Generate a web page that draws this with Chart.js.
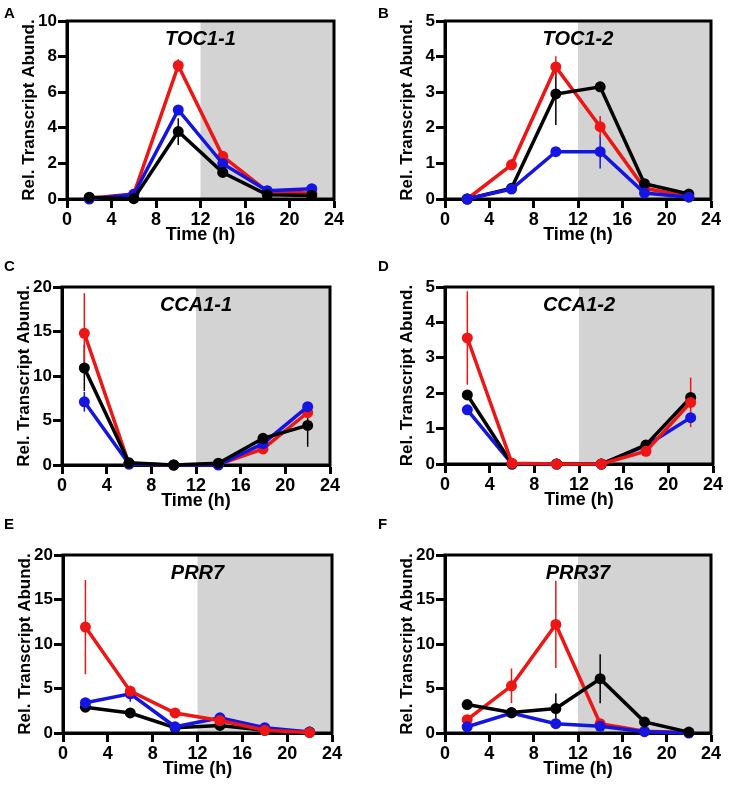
<!DOCTYPE html>
<html>
<head>
<meta charset="utf-8">
<script src="https://cdn.jsdelivr.net/npm/chart.js@4.4.1/dist/chart.umd.min.js"></script>
<style>
  body { margin: 0; background: #fff; width: 736px; height: 792px; position: relative; overflow: hidden;
         font-family: "Liberation Sans", Arial, sans-serif; }
  .panel { position: absolute; }
  .letter { position: absolute; font-weight: bold; font-size: 15px; }
</style>
</head>
<body>
<script>
// Sampling times (h)
const hours = [2, 6, 10, 14, 18, 22];

// A: TOC1-1
const toc11Red = [0.04, 0.28, 7.5, 2.4, 0.43, 0.33];
const toc11RedErr = [0, 0.05, 0.35, 0.1, 0.05, 0.05];
const toc11Blue = [0.0, 0.25, 5.0, 1.98, 0.47, 0.58];
const toc11BlueErr = [0, 0.05, 0.25, 0.1, 0.05, 0.05];
const toc11Black = [0.1, 0.02, 3.79, 1.49, 0.24, 0.2];
const toc11BlackErr = [0, 0, 0.75, 0.1, 0.05, 0.05];

// B: TOC1-2
const toc12Red = [0.0, 0.96, 3.71, 2.03, 0.3, 0.07];
const toc12RedErr = [0, 0.15, 0.3, 0.3, 0.05, 0.02];
const toc12Blue = [0.0, 0.28, 1.33, 1.33, 0.17, 0.05];
const toc12BlueErr = [0, 0.03, 0.1, 0.47, 0.03, 0.02];
const toc12Black = [0.0, 0.3, 2.95, 3.15, 0.43, 0.14];
const toc12BlackErr = [0, 0.03, 0.87, 0.08, 0.05, 0.03];

// C: CCA1-1
const cca11Red = [14.8, 0.1, 0.0, 0.05, 1.8, 5.9];
const cca11RedErr = [4.5, 0.05, 0, 0, 0.2, 0.4];
const cca11Blue = [7.1, 0.1, 0.0, 0.0, 2.4, 6.55];
const cca11BlueErr = [1.1, 0.05, 0, 0, 0.3, 0.5];
const cca11Black = [10.9, 0.25, 0.0, 0.2, 3.0, 4.45];
const cca11BlackErr = [2.6, 0.05, 0, 0.05, 0.3, 2.4];

// D: CCA1-2
const cca12Red = [3.56, 0.02, 0.0, 0.0, 0.36, 1.74];
const cca12RedErr = [1.32, 0, 0, 0, 0.05, 0.7];
const cca12Blue = [1.53, 0.0, 0.0, 0.0, 0.52, 1.31];
const cca12BlueErr = [0.05, 0, 0, 0, 0.05, 0.1];
const cca12Black = [1.95, 0.0, 0.0, 0.0, 0.54, 1.88];
const cca12BlackErr = [0.05, 0, 0, 0, 0.05, 0.1];

// E: PRR7
const prr7Red = [11.9, 4.7, 2.25, 1.4, 0.3, 0.05];
const prr7RedErr = [5.3, 0.4, 0.2, 0.2, 0.1, 0.05];
const prr7Blue = [3.4, 4.4, 0.7, 1.7, 0.6, 0.1];
const prr7BlueErr = [0.3, 0.9, 0.2, 0.2, 0.1, 0.05];
const prr7Black = [2.9, 2.25, 0.6, 0.85, 0.3, 0.1];
const prr7BlackErr = [0.4, 0.5, 0.1, 0.1, 0.1, 0.05];

// F: PRR37
const prr37Red = [1.5, 5.3, 12.2, 1.05, 0.2, 0.05];
const prr37RedErr = [0.3, 1.95, 4.9, 0.2, 0.1, 0.05];
const prr37Blue = [0.7, 2.25, 1.05, 0.75, 0.15, 0.0];
const prr37BlueErr = [0.2, 0.2, 0.3, 0.2, 0.05, 0];
const prr37Black = [3.2, 2.3, 2.75, 6.1, 1.25, 0.1];
const prr37BlackErr = [0.2, 0.2, 1.7, 2.75, 0.2, 0.05];

const RED = '#ee1515';
const BLUE = '#1515e2';
const BLACK = '#000000';

const panels = [
  { letter: 'A', title: 'TOC1-1', yMax: 10, yStep: 2, box: [0, 0, 368, 260], plot: [67, 21, 334, 199], lx: 4, ly: 4,
    series: [[BLACK, toc11Black, toc11BlackErr], [BLUE, toc11Blue, toc11BlueErr], [RED, toc11Red, toc11RedErr]] },
  { letter: 'B', title: 'TOC1-2', yMax: 5, yStep: 1, box: [368, 0, 368, 260], plot: [445, 21, 711, 199], lx: 378, ly: 4,
    series: [[BLUE, toc12Blue, toc12BlueErr], [BLACK, toc12Black, toc12BlackErr], [RED, toc12Red, toc12RedErr]] },
  { letter: 'C', title: 'CCA1-1', yMax: 20, yStep: 5, box: [0, 260, 368, 266], plot: [62, 287, 330, 465], lx: 4, ly: 257,
    series: [[BLACK, cca11Black, cca11BlackErr], [BLUE, cca11Blue, cca11BlueErr], [RED, cca11Red, cca11RedErr]] },
  { letter: 'D', title: 'CCA1-2', yMax: 5, yStep: 1, box: [368, 260, 368, 266], plot: [445, 287, 713, 464], lx: 378, ly: 257,
    series: [[RED, cca12Red, cca12RedErr], [BLACK, cca12Black, cca12BlackErr], [BLUE, cca12Blue, cca12BlueErr]] },
  { letter: 'E', title: 'PRR7', yMax: 20, yStep: 5, box: [0, 526, 368, 266], plot: [63, 555, 332, 733], lx: 4, ly: 515,
    series: [[RED, prr7Red, prr7RedErr], [BLUE, prr7Blue, prr7BlueErr], [BLACK, prr7Black, prr7BlackErr]] },
  { letter: 'F', title: 'PRR37', yMax: 20, yStep: 5, box: [368, 526, 368, 266], plot: [445, 555, 711, 733], lx: 378, ly: 515,
    series: [[BLACK, prr37Black, prr37BlackErr], [BLUE, prr37Blue, prr37BlueErr], [RED, prr37Red, prr37RedErr]] }
];

Chart.defaults.font.family = "'Liberation Sans', Arial, sans-serif";
Chart.defaults.font.weight = 'bold';
Chart.defaults.color = '#000';

// shading for dark period, frame, error bars and the gene name
const panelDecor = {
  id: 'panelDecor',
  beforeDatasetsDraw(chart, args, opts) {
    const { ctx, chartArea: a, scales: { x, y } } = chart;
    ctx.save();
    ctx.fillStyle = '#d3d3d3';
    const x12 = x.getPixelForValue(12);
    ctx.fillRect(x12, a.top, a.right - x12, a.bottom - a.top);
    ctx.strokeStyle = '#000';
    ctx.lineWidth = 3;
    ctx.strokeRect(a.left, a.top, a.right - a.left, a.bottom - a.top);
    ctx.font = 'italic bold 20px "Liberation Sans", Arial, sans-serif';
    ctx.fillStyle = '#000';
    ctx.textAlign = 'center';
    ctx.textBaseline = 'middle';
    ctx.fillText(opts.title, (a.left + a.right) / 2, a.top + 18);
    ctx.lineWidth = 1.5;
    chart.data.datasets.forEach(ds => {
      ctx.strokeStyle = ds.borderColor;
      ds.errors.forEach((e, i) => {
        if (!e) return;
        const px = x.getPixelForValue(ds.data[i].x);
        const v = ds.data[i].y;
        ctx.beginPath();
        ctx.moveTo(px, y.getPixelForValue(v + e));
        ctx.lineTo(px, y.getPixelForValue(Math.max(0, v - e)));
        ctx.stroke();
      });
    });
    ctx.restore();
  }
};

panels.forEach(p => {
  const [bx, by, bw, bh] = p.box;
  const [pl, pt, pr, pb] = p.plot;
  const letter = document.createElement('div');
  letter.className = 'letter';
  letter.style.left = p.lx + 'px';
  letter.style.top = p.ly + 'px';
  letter.textContent = p.letter;

  const wrap = document.createElement('div');
  wrap.className = 'panel';
  wrap.style.left = bx + 'px';
  wrap.style.top = by + 'px';
  wrap.style.width = bw + 'px';
  wrap.style.height = bh + 'px';
  const canvas = document.createElement('canvas');
  canvas.width = bw;
  canvas.height = bh;
  canvas.style.width = bw + 'px';
  canvas.style.height = bh + 'px';
  wrap.appendChild(canvas);
  document.body.appendChild(wrap);
  document.body.appendChild(letter);

  const datasets = p.series.map(([color, vals, errs]) => ({
    data: hours.map((h, i) => ({ x: h, y: vals[i] })),
    errors: errs,
    borderColor: color,
    backgroundColor: color,
    borderWidth: 3.5,
    pointRadius: 5.5,
    pointHoverRadius: 5.5,
    pointBorderWidth: 0,
    clip: false,
    tension: 0
  }));

  const xHeight = 47;
  new Chart(canvas, {
    type: 'line',
    data: { datasets },
    options: {
      responsive: false,
      animation: false,
      devicePixelRatio: 1,
      layout: { padding: { left: 0, top: pt - by, right: bx + bw - pr, bottom: by + bh - pb - xHeight } },
      plugins: { legend: { display: false }, tooltip: { enabled: false }, panelDecor: { title: p.title } },
      scales: {
        x: {
          type: 'linear', min: 0, max: 24,
          ticks: { stepSize: 4, font: { size: 18, weight: 'bold' }, padding: 1 },
          grid: { drawOnChartArea: false, tickLength: 9, tickWidth: 3, tickColor: '#000' },
          border: { color: '#000', width: 3 },
          title: { display: true, text: 'Time (h)', font: { size: 18, weight: 'bold' }, padding: { top: 0, bottom: 0 } },
          afterFit: s => { s.height = xHeight; }
        },
        y: {
          min: 0, max: p.yMax,
          ticks: { stepSize: p.yStep, font: { size: 17, weight: 'bold' }, padding: 1 },
          grid: { drawOnChartArea: false, tickLength: 9, tickWidth: 3, tickColor: '#000' },
          border: { color: '#000', width: 3 },
          title: { display: true, text: 'Rel. Transcript Abund.', font: { size: 17, weight: 'bold' },
                   padding: { top: Math.max(0, (pl - bx) - 38 - 10), bottom: 0 } },
          afterFit: s => { s.width = pl - bx; }
        }
      }
    },
    plugins: [panelDecor]
  });
});
</script>
</body>
</html>
